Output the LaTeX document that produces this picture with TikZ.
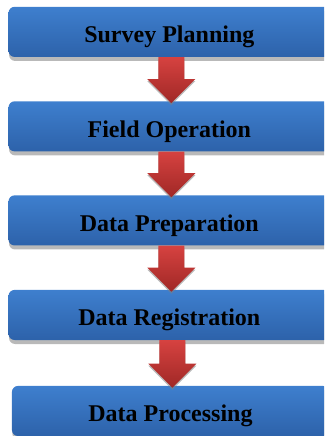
\documentclass[tikz,border=0pt]{standalone}
\usepackage{fontspec}
\setmainfont{Liberation Serif}
\usetikzlibrary{calc}
\usetikzlibrary{shadows}

\definecolor{boxtop}{RGB}{62,127,206}
\definecolor{boxbottom}{RGB}{45,98,170}
\definecolor{arrowtop}{RGB}{214,66,64}
\definecolor{arrowbottom}{RGB}{160,40,38}

\tikzset{
	stagebox/.style={rectangle, rounded corners=6pt, inner sep=0pt,
		minimum width=11.30cm, minimum height=1.76cm,
		text height=22pt, text depth=0pt,
		top color=boxtop, bottom color=boxbottom,
		drop shadow={shadow xshift=0.5pt, shadow yshift=-4pt, opacity=0.55, fill=gray},
		font=\fontsize{24}{28}\selectfont\bfseries},
	arrowfill/.style={top color=arrowtop, bottom color=arrowbottom,
		drop shadow={shadow xshift=0pt, shadow yshift=-2pt, opacity=0.55, fill=gray}}
}

% red block arrow from one stage to the next
\newcommand{\flowarrow}[2]{%
	\coordinate (tip) at ([xshift=2pt,yshift=-2pt]#2.north);
	\coordinate (top) at (tip |- #1.south);
	\path[arrowfill] ($(top)+(-13pt,0)$) -- ($(top)+(13pt,0)$)
		-- ($(tip)+(13pt,24pt)$) -- ($(tip)+(24pt,24pt)$) -- (tip)
		-- ($(tip)+(-24pt,24pt)$) -- ($(tip)+(-13pt,24pt)$) -- cycle;
}

\begin{document}
\begin{tikzpicture}
	\useasboundingbox (0,0) rectangle (11.39,15.32);
	\clip (0,0) rectangle (11.39,15.32);
	\node[stagebox] (plan) at (5.95,14.20) {Survey Planning};
	\node[stagebox] (field) at (5.95,10.88) {Field Operation};
	\node[stagebox] (prep) at (5.95,7.575) {Data Preparation};
	\node[stagebox] (regist) at (5.95,4.253) {Data Registration};
	\node[stagebox, minimum width=11.14cm] (proc) at (5.99,0.879) {Data Processing};
	\flowarrow{plan}{field}
	\flowarrow{field}{prep}
	\flowarrow{prep}{regist}
	\flowarrow{regist}{proc}
\end{tikzpicture}
\end{document}
